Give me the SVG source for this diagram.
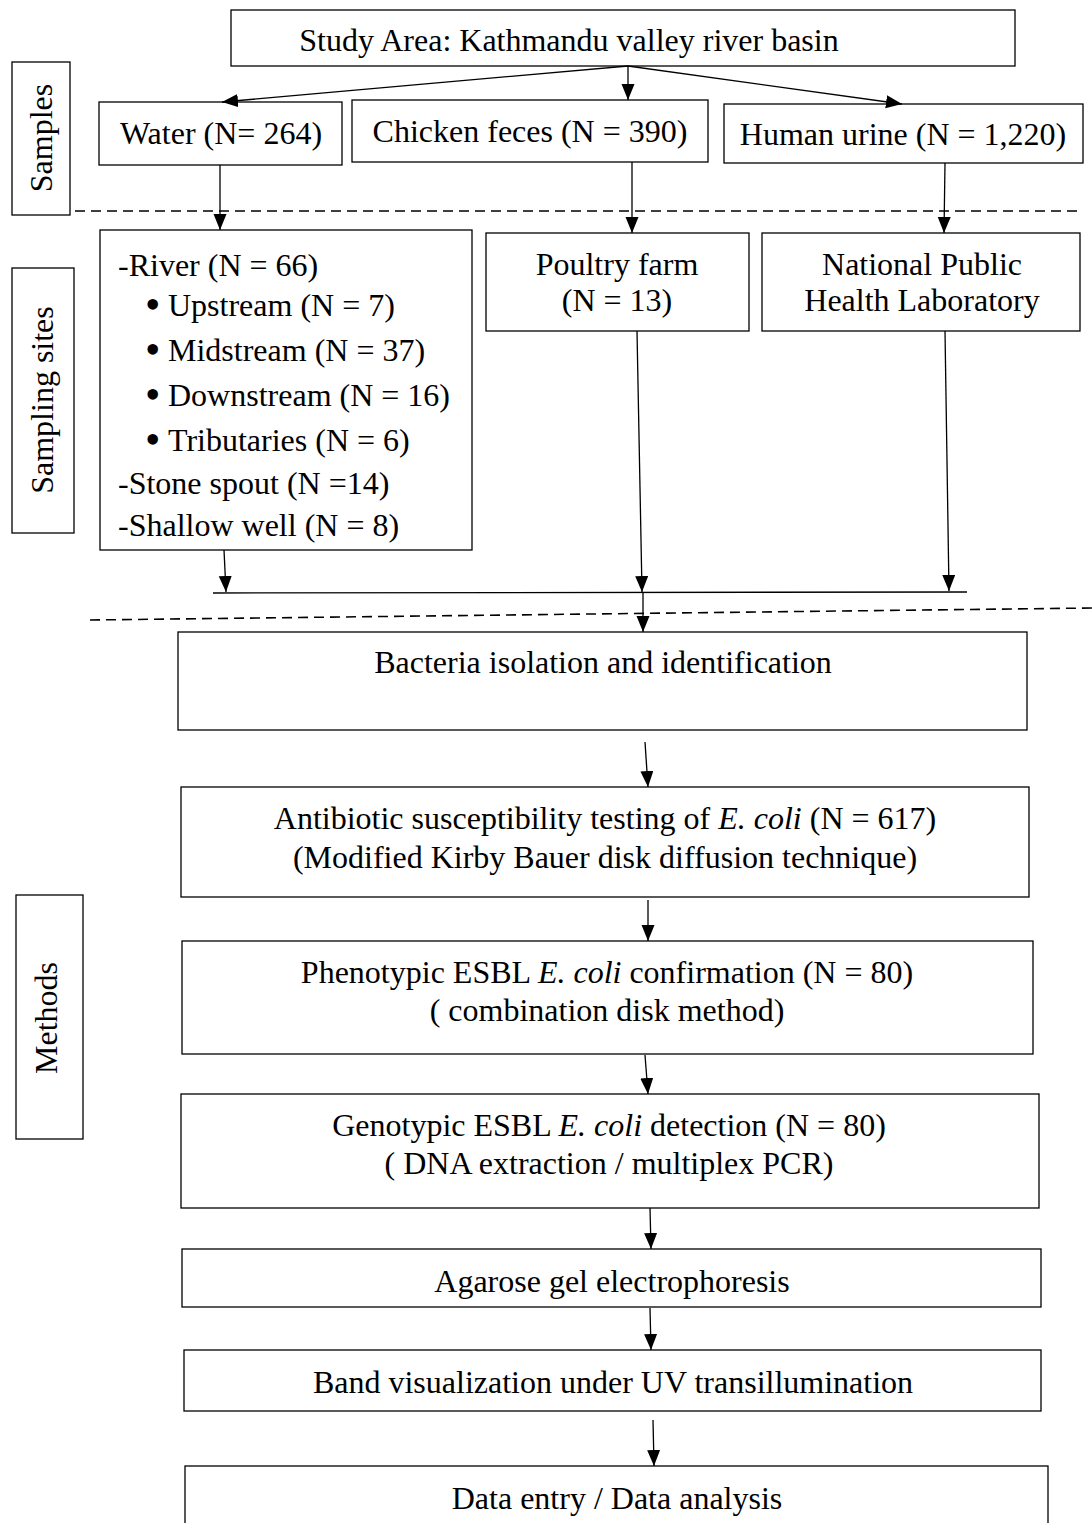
<svg xmlns="http://www.w3.org/2000/svg" width="1092" height="1523" viewBox="0 0 1092 1523">
<style>
.box{fill:#fff;stroke:#000;stroke-width:1.3}
.t{font-family:"Liberation Serif","Times New Roman",serif;font-size:32px;fill:#000}
.c{text-anchor:middle}
.b{font-size:44px}
.ln{stroke:#000;stroke-width:1.3;fill:none}
.dash{stroke:#000;stroke-width:1.6;stroke-dasharray:10,6;fill:none}
</style>
<defs>
<marker id="ah" markerUnits="userSpaceOnUse" markerWidth="17" markerHeight="14" refX="16" refY="6.5" orient="auto">
<path d="M0,0 L16,6.5 L0,13 Z" fill="#000"/>
</marker>
</defs>
<rect width="1092" height="1523" fill="#fff"/>

<g id="label-samples"><rect class="box" x="12" y="62" width="58" height="153"/><text class="t c" transform="translate(52,138) rotate(-90)">Samples</text></g>
<g id="label-sites"><rect class="box" x="12" y="268" width="62" height="265"/><text class="t c" transform="translate(53,400) rotate(-90)">Sampling sites</text></g>
<g id="label-methods"><rect class="box" x="16" y="895" width="67" height="244"/><text class="t c" transform="translate(57,1018) rotate(-90)">Methods</text></g>

<g id="study"><rect class="box" x="231" y="10" width="784" height="56"/><text class="t c" x="569" y="51">Study Area: Kathmandu valley river basin</text></g>
<g id="water"><rect class="box" x="99" y="102" width="243" height="63"/><text class="t c" x="221" y="144">Water (N= 264)</text></g>
<g id="chicken"><rect class="box" x="352" y="100" width="356" height="62"/><text class="t c" x="530" y="142">Chicken feces (N = 390)</text></g>
<g id="urine"><rect class="box" x="724" y="104" width="359" height="59"/><text class="t c" x="903" y="145">Human urine (N = 1,220)</text></g>

<g id="water-sites"><rect class="box" x="100" y="230" width="372" height="320"/>
<text class="t" x="118" y="276">-River (N = 66)</text>
<text class="t" x="145" y="319"><tspan class="b">•</tspan><tspan x="168" y="316">Upstream (N = 7)</tspan></text>
<text class="t" x="145" y="364"><tspan class="b">•</tspan><tspan x="168" y="361">Midstream (N = 37)</tspan></text>
<text class="t" x="145" y="409"><tspan class="b">•</tspan><tspan x="168" y="406">Downstream (N = 16)</tspan></text>
<text class="t" x="145" y="454"><tspan class="b">•</tspan><tspan x="168" y="451">Tributaries (N = 6)</tspan></text>
<text class="t" x="118" y="494">-Stone spout (N =14)</text>
<text class="t" x="118" y="536">-Shallow well (N = 8)</text>
</g>
<g id="poultry"><rect class="box" x="486" y="233" width="263" height="98"/><text class="t c" x="617" y="275">Poultry farm</text><text class="t c" x="617" y="311">(N = 13)</text></g>
<g id="nphl"><rect class="box" x="762" y="233" width="318" height="98"/><text class="t c" x="922" y="275">National Public</text><text class="t c" x="922" y="311">Health Laboratory</text></g>

<g id="bacteria"><rect class="box" x="178" y="632" width="849" height="98"/><text class="t c" x="603" y="673">Bacteria isolation and identification</text></g>
<g id="ast"><rect class="box" x="181" y="787" width="848" height="110"/><text class="t c" x="605" y="829">Antibiotic susceptibility testing of <tspan font-style="italic">E. coli</tspan> (N = 617)</text><text class="t c" x="605" y="868">(Modified Kirby Bauer disk diffusion technique)</text></g>
<g id="pheno"><rect class="box" x="182" y="941" width="851" height="113"/><text class="t c" x="607" y="983">Phenotypic ESBL <tspan font-style="italic">E. coli</tspan> confirmation (N = 80)</text><text class="t c" x="607" y="1021">( combination disk method)</text></g>
<g id="geno"><rect class="box" x="181" y="1094" width="858" height="114"/><text class="t c" x="609" y="1136">Genotypic ESBL <tspan font-style="italic">E. coli</tspan> detection (N = 80)</text><text class="t c" x="609" y="1174">( DNA extraction / multiplex PCR)</text></g>
<g id="agarose"><rect class="box" x="182" y="1249" width="859" height="58"/><text class="t c" x="612" y="1292">Agarose gel electrophoresis</text></g>
<g id="band"><rect class="box" x="184" y="1350" width="857" height="61"/><text class="t c" x="613" y="1393">Band visualization under UV transillumination</text></g>
<g id="data"><rect class="box" x="185" y="1466" width="863" height="70"/><text class="t c" x="617" y="1509">Data entry / Data analysis</text></g>

<g id="connectors">
<path class="dash" d="M75,211 L1080,211"/>
<path class="dash" d="M90,620 L1092,608"/>
<line class="ln" x1="628" y1="66" x2="222" y2="102" marker-end="url(#ah)"/>
<line class="ln" x1="628" y1="66" x2="628" y2="100" marker-end="url(#ah)"/>
<line class="ln" x1="628" y1="66" x2="902" y2="104" marker-end="url(#ah)"/>
<line class="ln" x1="220" y1="165" x2="220" y2="230" marker-end="url(#ah)"/>
<line class="ln" x1="632" y1="162" x2="632" y2="233" marker-end="url(#ah)"/>
<line class="ln" x1="945" y1="163" x2="944" y2="233" marker-end="url(#ah)"/>
<line class="ln" x1="224" y1="550" x2="226" y2="592" marker-end="url(#ah)"/>
<line class="ln" x1="637" y1="331" x2="642" y2="592" marker-end="url(#ah)"/>
<line class="ln" x1="945" y1="331" x2="949" y2="591" marker-end="url(#ah)"/>
<line class="ln" x1="213" y1="593" x2="967" y2="592"/>
<line class="ln" x1="643" y1="593" x2="643" y2="632" marker-end="url(#ah)"/>
<line class="ln" x1="645" y1="742" x2="648" y2="787" marker-end="url(#ah)"/>
<line class="ln" x1="648" y1="900" x2="648" y2="941" marker-end="url(#ah)"/>
<line class="ln" x1="645" y1="1055" x2="648" y2="1094" marker-end="url(#ah)"/>
<line class="ln" x1="650" y1="1208" x2="651" y2="1249" marker-end="url(#ah)"/>
<line class="ln" x1="650" y1="1308" x2="651" y2="1350" marker-end="url(#ah)"/>
<line class="ln" x1="653" y1="1420" x2="654" y2="1466" marker-end="url(#ah)"/>
</g>
</svg>
